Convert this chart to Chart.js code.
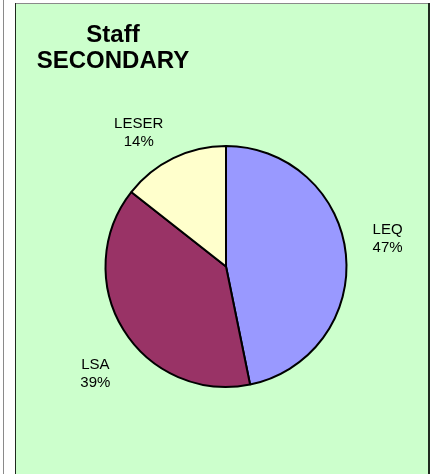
<!DOCTYPE html>
<html>
<head>
<meta charset="utf-8">
<script src="https://cdn.jsdelivr.net/npm/chart.js@4.4.1/dist/chart.umd.min.js"></script>
<style>
  html, body { margin: 0; padding: 0; background: #ffffff; }
  #wrap { position: relative; width: 430px; height: 474px; }
</style>
</head>
<body>
<div id="wrap"><canvas id="myChart" width="430" height="474"></canvas></div>
<script>
// chart data
const categories = ['LEQ', 'LSA', 'LESER'];
const shares = [46.8, 38.8, 14.4];
const sliceColors = ['#9999FF', '#993366', '#FFFFCC'];
const titleLines = ['Staff', 'SECONDARY'];

// green panel + frame lines behind the chart
const panelBackground = {
    id: 'panelBackground',
    beforeDraw(chart) {
        const ctx = chart.ctx;
        ctx.save();
        ctx.fillStyle = '#ffffff';
        ctx.fillRect(0, 0, chart.width, chart.height);
        // thin grey line at far left
        ctx.fillStyle = '#8a8a8a';
        ctx.fillRect(3, 0, 1, chart.height);
        // panel
        ctx.fillStyle = '#CCFFCC';
        ctx.fillRect(15, 3, 414, chart.height - 3);
        ctx.fillStyle = '#8a8a8a';
        ctx.fillRect(15, 3, 414, 1);
        ctx.fillStyle = '#1f2a1f';
        ctx.fillRect(15, 3, 1, chart.height - 3);
        ctx.fillRect(428, 3, 2, chart.height - 3);
        ctx.restore();
    }
};

// two line title, centred on its own
const sideTitle = {
    id: 'sideTitle',
    afterDraw(chart) {
        const ctx = chart.ctx;
        ctx.save();
        ctx.fillStyle = '#000000';
        ctx.font = 'bold 24px "Liberation Sans", Arial, sans-serif';
        ctx.textAlign = 'center';
        ctx.textBaseline = 'alphabetic';
        titleLines.forEach((line, i) => {
            ctx.fillText(line, 113, 42 + i * 26);
        });
        ctx.restore();
    }
};

// category + percent outside each slice
const sliceLabels = {
    id: 'sliceLabels',
    afterDatasetsDraw(chart) {
        const ctx = chart.ctx;
        const meta = chart.getDatasetMeta(0);
        const data = chart.data.datasets[0].data;
        const total = data.reduce((a, b) => a + b, 0);
        ctx.save();
        ctx.fillStyle = '#000000';
        ctx.font = '15px "Liberation Sans", Arial, sans-serif';
        ctx.textAlign = 'center';
        ctx.textBaseline = 'middle';
        meta.data.forEach((arc, i) => {
            const p = arc.getProps(['x', 'y', 'startAngle', 'endAngle', 'outerRadius'], true);
            const mid = (p.startAngle + p.endAngle) / 2 - 6 * Math.PI / 180;
            const dist = p.outerRadius * 1.37;
            const lx = p.x + Math.cos(mid) * dist;
            const ly = p.y + Math.sin(mid) * dist + 6;
            const pct = Math.round(data[i] / total * 100) + '%';
            ctx.fillText(chart.data.labels[i], lx, ly - 9);
            ctx.fillText(pct, lx, ly + 9);
        });
        ctx.restore();
    }
};

const myChartRef = document.getElementById('myChart').getContext('2d');
new Chart(myChartRef, {
    type: 'pie',
    data: {
        labels: categories,
        datasets: [
            {
                data: shares,
                backgroundColor: sliceColors,
                borderColor: '#000000',
                borderWidth: 2
            }
        ]
    },
    options: {
        responsive: false,
        animation: false,
        layout: {
            padding: { left: 104, top: 145, right: 82, bottom: 86 }
        },
        plugins: {
            legend: { display: false },
            title: { display: false },
            tooltip: { enabled: false }
        }
    },
    plugins: [panelBackground, sideTitle, sliceLabels]
});
</script>
</body>
</html>
